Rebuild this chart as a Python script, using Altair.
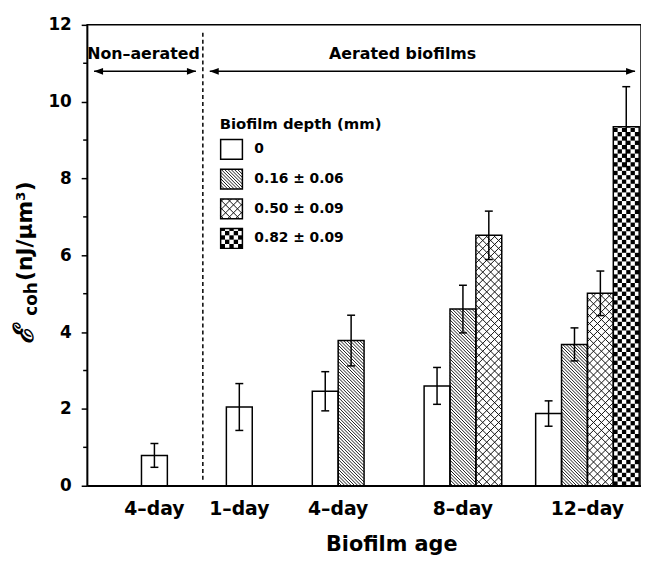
import altair as alt
import numpy as np
import pandas as pd

# ---------------- data ----------------
group_labels = ["4–day", "1–day", "4–day", "8–day", "12–day"]
depth_labels = ["0", "0.16 ± 0.06", "0.50 ± 0.09", "0.82 ± 0.09"]
means = [[0.79], [2.05], [2.46, 3.78], [2.60, 4.60, 6.52], [1.88, 3.68, 5.01, 9.35]]
errs = [[0.31], [0.61], [0.51, 0.66], [0.48, 0.62, 0.63], [0.33, 0.43, 0.58, 1.04]]
y_major = [0, 2, 4, 6, 8, 10, 12]
y_minor = [1, 3, 5, 7, 9, 11]
region_labels = ["Non–aerated", "Aerated biofilms"]

# ---------------- layout ----------------
W, H = 560, 466
XMAX, YMAX = 21.4, 12.0
PXX, PXY = W / XMAX, H / YMAX
group_left = [2.10, 5.38, 8.70, 13.02, 17.33]   # left edge of each group, in bar widths
FONT = "DejaVu Sans"
HATCH_GAP = 3.3
CROSS_GAP = 8.0


def px2x(p):
    return p / PXX


def px2y(p):
    return (H - p) / PXY


# bars
bar_rows = []
for gi, (gl, ms, es) in enumerate(zip(group_left, means, errs)):
    for k, (m, e) in enumerate(zip(ms, es)):
        xc = gl + k + 0.5
        bar_rows.append({"x0": gl + k, "x1": gl + k + 1, "xc": xc,
                         "cl": xc - px2x(4), "cr": xc + px2x(4),
                         "y0": 0.0, "y1": m, "lo": m - e, "hi": m + e, "k": k})
bars = pd.DataFrame(bar_rows)

# legend boxes
LEG_LEFT, LEG_W, LEG_TOP0, LEG_STEP, LEG_H = 135, 22, 116, 30, 20
leg_rows = []
for k, lab in enumerate(depth_labels):
    top = LEG_TOP0 + k * LEG_STEP
    leg_rows.append({"x0": px2x(LEG_LEFT), "x1": px2x(LEG_LEFT + LEG_W),
                     "y0": px2y(top + LEG_H), "y1": px2y(top), "k": k, "label": lab,
                     "tx": px2x(LEG_LEFT + LEG_W + 12), "ty": px2y(top + LEG_H / 2)})
legend = pd.DataFrame(leg_rows)

rects = pd.concat([bars[["x0", "x1", "y0", "y1", "k"]], legend[["x0", "x1", "y0", "y1", "k"]]],
                  ignore_index=True)


def diag_segments(x0, x1, y0, y1, gap, sign):
    u0, u1, w0, w1 = x0 * PXX, x1 * PXX, y0 * PXY, y1 * PXY
    segs = []
    if sign > 0:   # "\" lines : u + w = c
        cs = np.arange(np.ceil((u0 + w0) / gap), np.floor((u1 + w1) / gap) + 1) * gap
        for c in cs:
            ua, ub = max(u0, c - w1), min(u1, c - w0)
            if ub - ua > 0.3:
                segs.append((ua / PXX, (c - ua) / PXY, ub / PXX, (c - ub) / PXY))
    else:          # "/" lines : w - u = c
        cs = np.arange(np.ceil((w0 - u1) / gap), np.floor((w1 - u0) / gap) + 1) * gap
        for c in cs:
            ua, ub = max(u0, w0 - c), min(u1, w1 - c)
            if ub - ua > 0.3:
                segs.append((ua / PXX, (ua + c) / PXY, ub / PXX, (ub + c) / PXY))
    return segs


def checker_cells(x0, x1, y0, y1, ncols):
    u0, u1, w0, w1 = x0 * PXX, x1 * PXX, y0 * PXY, y1 * PXY
    s = (u1 - u0) / ncols
    cells = []
    nrows = int(np.ceil((w1 - w0) / s))
    for j in range(nrows):
        for i in range(ncols):
            if (i + j) % 2 == 0:
                top = min(w0 + (j + 1) * s, w1)
                cells.append(((u0 + i * s) / PXX, (w0 + j * s) / PXY,
                              (u0 + (i + 1) * s) / PXX, top / PXY))
    return cells


hatch, cross, cheq = [], [], []
for r in rects.itertuples():
    if r.k == 1:
        hatch += diag_segments(r.x0, r.x1, r.y0, r.y1, HATCH_GAP, 1)
    elif r.k == 2:
        cross += diag_segments(r.x0, r.x1, r.y0, r.y1, CROSS_GAP, 1)
        cross += diag_segments(r.x0, r.x1, r.y0, r.y1, CROSS_GAP, -1)
    elif r.k == 3:
        ncols = 6 if (r.x1 - r.x0) > 0.95 else 5
        cheq += checker_cells(r.x0, r.x1, r.y0, r.y1, ncols)
hatch = pd.DataFrame(hatch, columns=["x", "y", "x2", "y2"])
cross = pd.DataFrame(cross, columns=["x", "y", "x2", "y2"])
cheq = pd.DataFrame(cheq, columns=["x", "y", "x2", "y2"])

xs = alt.Scale(domain=[0, XMAX], nice=False, zero=False)
ys = alt.Scale(domain=[0, YMAX], nice=False)

axis_x = alt.Axis(labels=False, ticks=False, title=None, grid=False,
                  domainColor="black", domainWidth=1.5)
axis_y = alt.Axis(values=y_major, title=None, grid=False, tickSize=6, tickWidth=1.5,
                  tickColor="black", domainColor="black", domainWidth=1.5,
                  labelFont=FONT, labelFontWeight="bold", labelFontSize=17,
                  labelColor="black", labelPadding=10, format="d")


def X(field):
    return alt.X(field, type="quantitative", scale=xs, axis=axis_x)


def Y(field):
    return alt.Y(field, type="quantitative", scale=ys, axis=axis_y)


fills = alt.Chart(rects).mark_rect(fill="white").encode(
    x=X("x0"), x2="x1", y=Y("y0"), y2="y1")


def seg_layer(df, width, color):
    return alt.Chart(df).mark_rule(color=color, strokeWidth=width).encode(
        x=X("x"), x2="x2", y=Y("y"), y2="y2")


hatch_l = seg_layer(hatch, 0.9, "black")
cross_l = seg_layer(cross, 1.0, "#111111")
cheq_l = alt.Chart(cheq).mark_rect(fill="black").encode(
    x=X("x"), x2="x2", y=Y("y"), y2="y2")

outline = alt.Chart(rects).mark_rect(fill="white", fillOpacity=0, stroke="black",
                                     strokeWidth=1.5).encode(
    x=X("x0"), x2="x1", y=Y("y0"), y2="y1")

err_v = alt.Chart(bars).mark_rule(color="black", strokeWidth=1.5).encode(
    x=X("xc"), y=Y("lo"), y2="hi")
cap_lo = alt.Chart(bars).mark_rule(color="black", strokeWidth=1.5).encode(
    x=X("cl"), x2="cr", y=Y("lo"))
cap_hi = alt.Chart(bars).mark_rule(color="black", strokeWidth=1.5).encode(
    x=X("cl"), x2="cr", y=Y("hi"))

minor = alt.Chart(pd.DataFrame({"v": y_minor})).mark_rule(color="black", strokeWidth=1.5).encode(
    x=alt.value(-4), x2=alt.value(0), y=Y("v"))

# legend
leg_title = alt.Chart(pd.DataFrame({"t": ["Biofilm depth (mm)"]})).mark_text(
    font=FONT, fontWeight="bold", fontSize=15, align="left", baseline="middle",
    color="black").encode(text="t:N", x=alt.value(134), y=alt.value(100))
leg_text = alt.Chart(legend).mark_text(
    font=FONT, fontWeight="bold", fontSize=14, align="left", baseline="middle",
    color="black").encode(text="label:N", x=X("tx"), y=Y("ty"))

# region annotations
divider = alt.Chart(pd.DataFrame({"x": [px2x(117)], "y": [px2y(8)], "y2": [px2y(460)]})).mark_rule(
    color="black", strokeWidth=1.5, strokeDash=[4, 3]).encode(
    x=X("x"), y=Y("y"), y2="y2")

ARROW_Y = px2y(47)
regions = pd.DataFrame({
    "label": region_labels,
    "xa": [px2x(7), px2x(124)],
    "xb": [px2x(110), px2x(554)],
    "tx": [px2x(57), px2x(319)],
    "y": [ARROW_Y, ARROW_Y],
    "ty": [px2y(30), px2y(30)],
})
regions["ha"] = regions["xa"] + px2x(4.5)
regions["hb"] = regions["xb"] - px2x(4.5)
arrow_line = alt.Chart(regions).mark_rule(color="black", strokeWidth=1.5).encode(
    x=X("xa"), x2="xb", y=Y("y"))
head_l = alt.Chart(regions).mark_point(filled=True, color="black", opacity=1, size=85,
                                       shape="M-1,0L1,-0.75L1,0.75Z").encode(
    x=X("ha"), y=Y("y"))
head_r = alt.Chart(regions).mark_point(filled=True, color="black", opacity=1, size=85,
                                       shape="M1,0L-1,-0.75L-1,0.75Z").encode(
    x=X("hb"), y=Y("y"))
region_text = alt.Chart(regions).mark_text(
    font=FONT, fontWeight="bold", fontSize=16, baseline="middle", color="black").encode(
    text="label:N", x=X("tx"), y=Y("ty"))

# x labels & titles
grp = pd.DataFrame({"label": group_labels,
                    "xc": [gl + len(m) / 2 for gl, m in zip(group_left, means)]})
x_labels = alt.Chart(grp).mark_text(
    font=FONT, fontWeight="bold", fontSize=19, baseline="middle", color="black").encode(
    text="label:N", x=X("xc"), y=alt.value(H + 24))
x_title = alt.Chart(pd.DataFrame({"t": ["Biofilm age"]})).mark_text(
    font=FONT, fontWeight="bold", fontSize=21, baseline="middle", color="black").encode(
    text="t:N", x=alt.value(308), y=alt.value(H + 60))

yt_e = alt.Chart(pd.DataFrame({"t": ["ℰ"]})).mark_text(
    font="DejaVu Serif", fontWeight="bold", fontStyle="italic", fontSize=28, angle=270, align="left",
    baseline="alphabetic", color="black").encode(text="t:N", x=alt.value(-55), y=alt.value(323))
yt_sub = alt.Chart(pd.DataFrame({"t": ["coh"]})).mark_text(
    font=FONT, fontWeight="bold", fontSize=17, angle=270, align="left",
    baseline="alphabetic", color="black").encode(text="t:N", x=alt.value(-51), y=alt.value(294))
yt_unit = alt.Chart(pd.DataFrame({"t": ["(nJ/μm³)"]})).mark_text(
    font=FONT, fontWeight="bold", fontSize=22, angle=270, align="left",
    baseline="alphabetic", color="black").encode(text="t:N", x=alt.value(-56), y=alt.value(259))

chart = alt.layer(
    fills, hatch_l, cross_l, cheq_l, outline, err_v, cap_lo, cap_hi, minor,
    leg_title, leg_text, divider, arrow_line, head_l, head_r, region_text,
    x_labels, x_title, yt_e, yt_sub, yt_unit,
).properties(
    width=W, height=H,
    padding={"left": 80, "top": 14, "right": 0, "bottom": 68},
    autosize=alt.AutoSizeParams(type="none"),
).configure_view(stroke="black", strokeWidth=1.5)

chart.save("out.html", embed_options={"renderer": "svg", "actions": False})
